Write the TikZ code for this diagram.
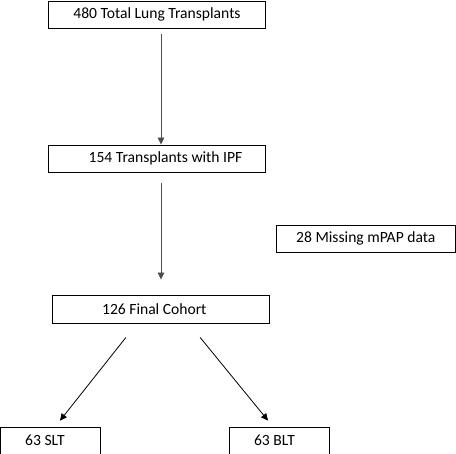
\documentclass[tikz,border=0pt]{standalone}
\usepackage{fontspec}
\setmainfont{Carlito}
\usetikzlibrary{arrows.meta,positioning}

\begin{document}
\begin{tikzpicture}[x=1pt,y=-1pt,
            % Define the styles for boxes and arrows
            stage/.style={draw, rectangle, line width=0.9pt, inner sep=0pt,
              minimum height=27pt, font=\fontsize{15.6}{18}\selectfont},
            flow/.style={-{Triangle[length=7pt,width=6.5pt]}, line width=0.8pt},
            ]
        
            \useasboundingbox (0,0) rectangle (456,454);
        
            % Main boxes
            \node[stage, minimum width=217pt] (total) at (157,14.5) {480 Total Lung Transplants};
            \node[stage, minimum width=217pt] (ipf) at (157,158.5) {\hspace{17pt}154 Transplants with IPF};
            \node[stage, minimum width=179pt] (missing) at (365.8,238.5) {28 Missing mPAP data};
            \node[stage, minimum width=217pt, minimum height=28pt] (cohort) at (160.8,309) {\hspace{-13pt}126 Final Cohort};
        
            % Split by type
            \node[stage, minimum width=100pt] (slt) at (50,440.5) {\hspace{-10pt}63 SLT};
            \node[stage, minimum width=100pt] (blt) at (279,440.5) {\hspace{-9pt}63 BLT};
        
            % Connect the stages
            \draw[flow, black!70, shorten <=6pt] ([xshift=4pt]total.south) -- ([xshift=4pt]ipf.north);
            \draw[flow, black!70, shorten <=11pt, shorten >=15pt] ([xshift=4pt]ipf.south) -- ([xshift=0.2pt]cohort.north);
        
            % Connect the cohort to both groups
            \draw[flow, shorten <=18pt, shorten >=7.5pt] ([xshift=-23.8pt]cohort.south) -- ([xshift=5.3pt]slt.north);
            \draw[flow, shorten <=18pt, shorten >=7.7pt] ([xshift=27.9pt]cohort.south) -- ([xshift=-6.1pt]blt.north);
        
        \end{tikzpicture}
\end{document}
